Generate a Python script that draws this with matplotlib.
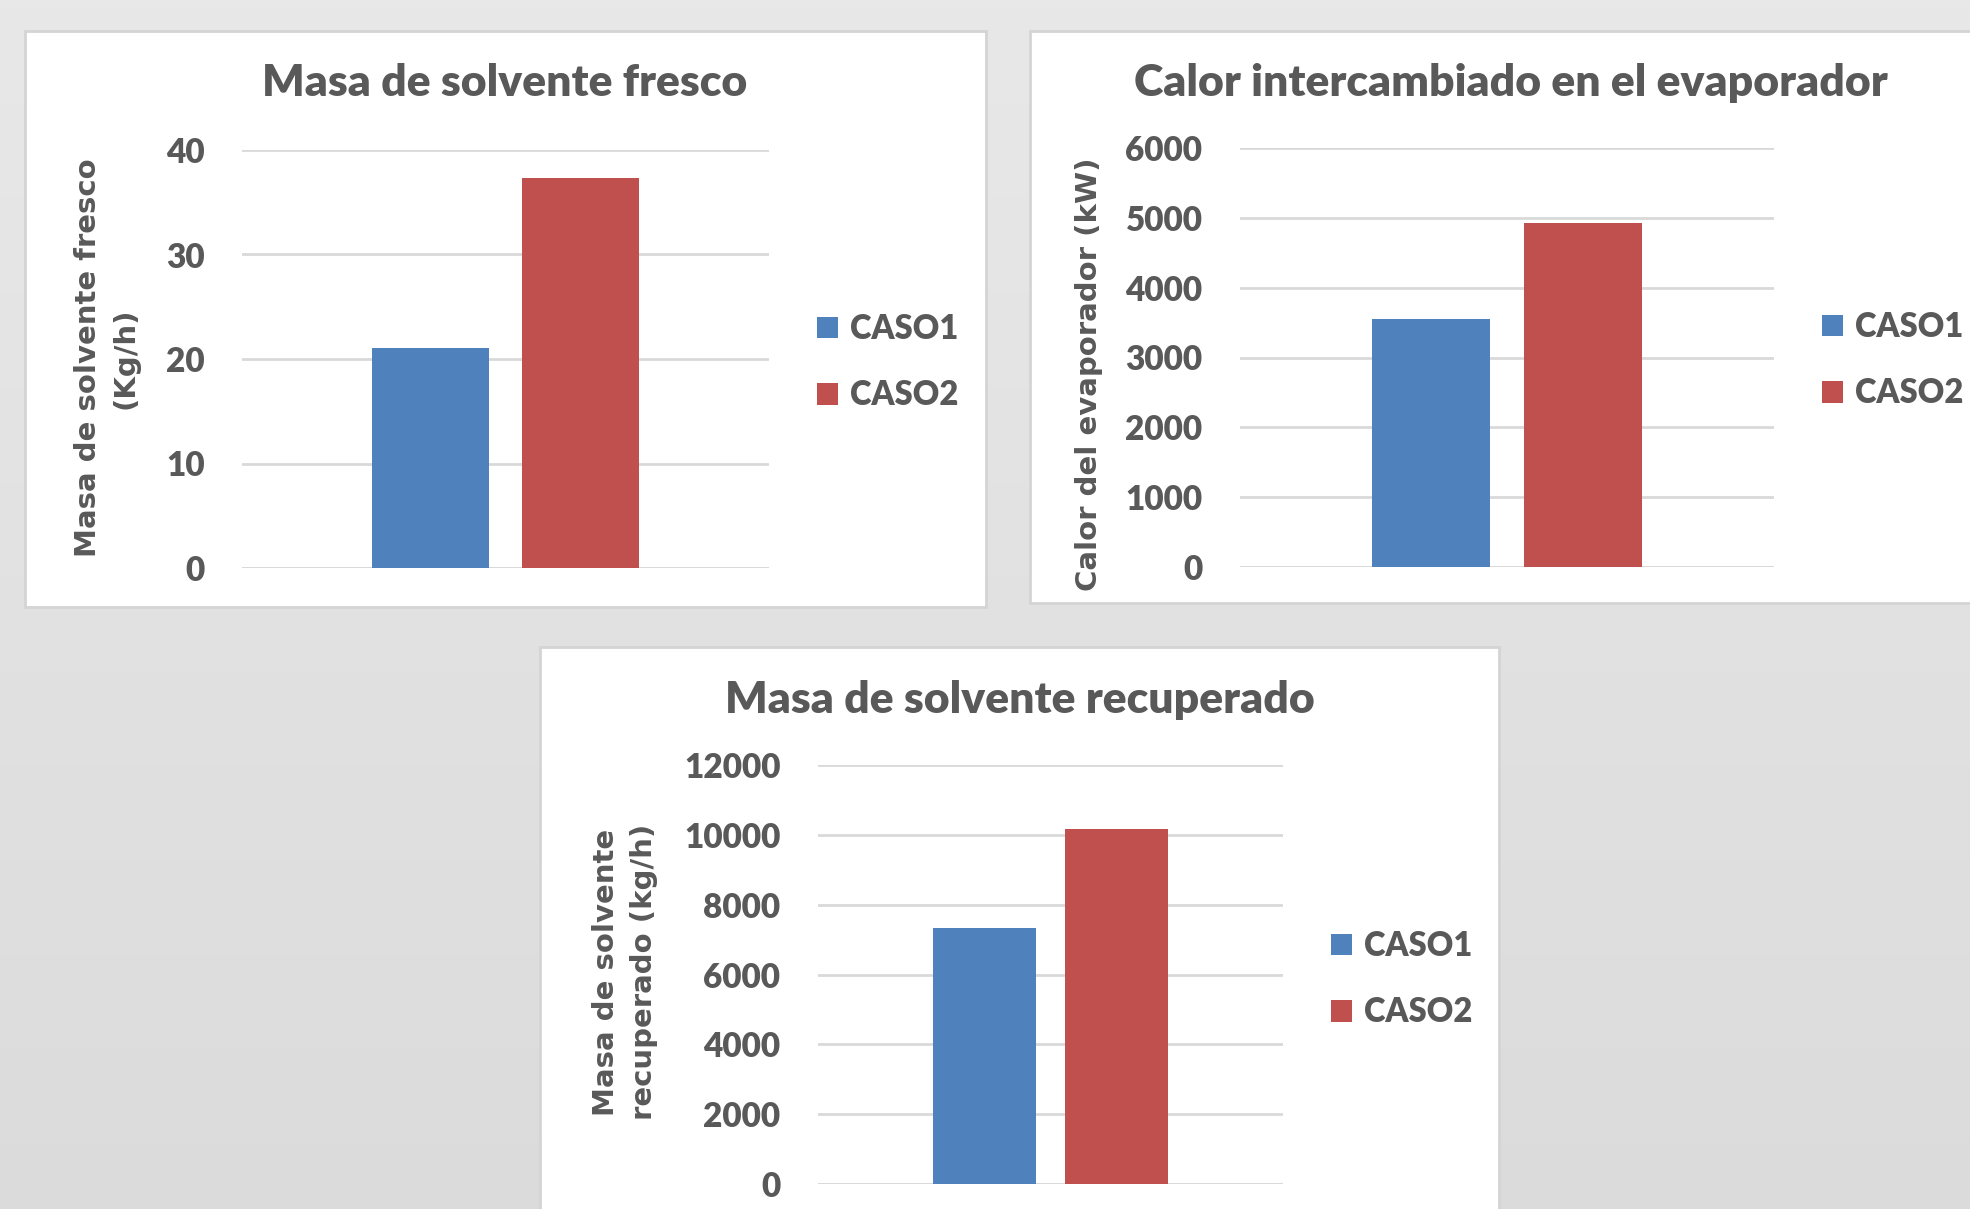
import numpy as np
import matplotlib.pyplot as plt
from matplotlib.patches import Rectangle

# data
series = ["CASO1", "CASO2"]
colors = ["#4f81bd", "#c0504d"]
fresco = [21.1, 37.3]
calor = [3550, 4930]
recuperado = [7330, 10160]

W, H = 1970, 1209
txt_col = "#595959"
grid_col = "#d9d9d9"
WGT = "heavy"


def fbox(x0, y0, x1, y1):
    # pixel box (top-left origin) -> figure fraction
    return [x0 / W, 1 - y1 / H, (x1 - x0) / W, (y1 - y0) / H]


fig = plt.figure(figsize=(W / 100, H / 100), dpi=100)

# gray background with a slight vertical gradient
bg = fig.add_axes([0, 0, 1, 1])
grad = np.linspace(0.91, 0.86, 256).reshape(-1, 1)
bg.imshow(np.dstack([grad, grad, grad]), aspect="auto", extent=[0, 1, 0, 1])
bg.set_xlim(0, 1)
bg.set_ylim(0, 1)
bg.axis("off")

# white chart panels
for box in [(25, 31, 986, 607), (1030, 31, 1990, 603), (540, 647, 1499, 1230)]:
    b = fbox(*box)
    bg.add_patch(Rectangle((b[0], b[1]), b[2], b[3], facecolor="white",
                           edgecolor="#d4d4d4", linewidth=2))


def panel(axbox, vals, ymax, step, title, tpos, ylabel, ypos, legpos):
    ax = fig.add_axes(fbox(*axbox))
    offs = [-0.142, 0.142]
    for v, o, c, s in zip(vals, offs, colors, series):
        ax.bar(o, v, width=0.222, color=c, label=s, zorder=3)
    ax.set_xlim(-0.5, 0.5)
    ax.set_ylim(0, ymax)
    ax.set_yticks(np.arange(0, ymax + 1, step))
    ax.set_xticks([])
    ax.grid(axis="y", color=grid_col, linewidth=2, zorder=0)
    for sp in ax.spines.values():
        sp.set_visible(False)
    ax.axhline(0, color=grid_col, linewidth=2, zorder=1)
    ax.tick_params(axis="y", length=0, pad=27, labelsize=24, labelcolor=txt_col)
    for t in ax.get_yticklabels():
        t.set_fontfamily("Lato")
        t.set_fontweight(WGT)
    ax.patch.set_alpha(0)
    fig.text(tpos[0] / W, 1 - tpos[1] / H, title, ha="center", va="center",
             fontsize=32, fontweight=WGT, color=txt_col, family="Lato")
    fig.text(ypos[0] / W, 1 - ypos[1] / H, ylabel, ha="center", va="center",
             rotation=90, fontsize=21, fontweight="bold", color=txt_col,
             family="DejaVu Sans", linespacing=1.45, multialignment="center")
    leg = ax.legend(loc="center left", bbox_to_anchor=(legpos[0] / W, 1 - legpos[1] / H),
                    bbox_transform=fig.transFigure, frameon=False, fontsize=23.5,
                    handlelength=0.65, handleheight=0.65, handletextpad=0.35,
                    labelspacing=1.05, borderpad=0, borderaxespad=0)
    for t in leg.get_texts():
        t.set_color(txt_col)
        t.set_fontfamily("Lato")
        t.set_fontweight(WGT)
    return ax


panel((242, 150, 769, 568), fresco, 40, 10, "Masa de solvente fresco", (505, 83),
      "Masa de solvente fresco\n(Kg/h)", (107, 358), (817, 362))
panel((1240, 148, 1774, 567), calor, 6000, 1000, "Calor intercambiado en el evaporador",
      (1511, 83), "Calor del evaporador (kW)", (1089, 374), (1822, 360))
panel((818, 765, 1283, 1184), recuperado, 12000, 2000, "Masa de solvente recuperado",
      (1020, 700), "Masa de solvente\nrecuperado (kg/h)", (625, 972), (1331, 979))

fig.savefig("out.png", dpi=100)
